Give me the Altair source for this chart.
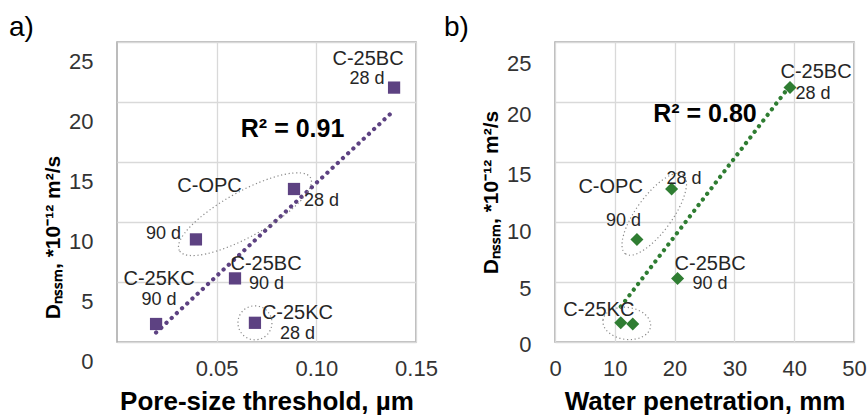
import altair as alt
import pandas as pd

# ---------------- data ----------------
mix = ["C-25BC", "C-OPC", "C-OPC", "C-25BC", "C-25KC", "C-25KC"]
age = ["28 d", "28 d", "90 d", "90 d", "28 d", "90 d"]
dnssm = [21.2, 12.75, 8.55, 5.3, 1.6, 1.5]                   # Dnssm, *10^-12 m2/s
pore_threshold = [0.139, 0.0888, 0.0396, 0.0592, 0.0692, 0.0196]  # µm
water_penetration = [39.3, 19.5, 13.7, 20.5, 11.0, 13.0]       # mm
r2_left = "R² = 0.91"
r2_right = "R² = 0.80"
y_ticks = [0, 5, 10, 15, 20, 25]
x_ticks_left = [0.05, 0.10, 0.15]
x_ticks_right = [0, 10, 20, 30, 40, 50]

df = pd.DataFrame({"mix": mix, "age": age, "dnssm": dnssm,
                   "pore": pore_threshold, "water": water_penetration})
df["key"] = df["mix"] + " " + df["age"]

# ---------------- style ----------------
FONT = "Liberation Sans"
PURPLE = "#5d4282"
GREEN = "#2f7d32"
TXT = "#262626"
W, H = 299, 300
Y_TITLE = "Dₙₛₛₘ, *10⁻¹² m²/s"


def y_enc(offset, title_y):
    return alt.Y("dnssm:Q", scale=alt.Scale(domain=[0, 25], nice=False, zero=False),
                 axis=alt.Axis(values=y_ticks, title=Y_TITLE, labelOffset=offset,
                               titleY=title_y))


def x_left():
    return alt.X("pore:Q", scale=alt.Scale(domain=[0, 0.15], nice=False, zero=False),
                 axis=alt.Axis(values=x_ticks_left, format=".2f",
                               title="Pore-size threshold, µm"))


def x_right():
    return alt.X("water:Q", scale=alt.Scale(domain=[0, 50], nice=False, zero=False),
                 axis=alt.Axis(values=x_ticks_right, format="d",
                               title="Water penetration, mm"))


def ellipse_path(k):
    c = 0.5523
    return (f"M -1 0 C -1 {-c*k:.3f} {-c:.3f} {-k:.3f} 0 {-k:.3f} "
            f"C {c:.3f} {-k:.3f} 1 {-c*k:.3f} 1 0 "
            f"C 1 {c*k:.3f} {c:.3f} {k:.3f} 0 {k:.3f} "
            f"C {-c:.3f} {k:.3f} -1 {c*k:.3f} -1 0 Z")


def panel(xfield, xenc, yenc, color, shape, msize, labels, ellipses, r2, r2_off, tag, tag_dx):
    base = alt.Chart(df)
    layers = []
    # dotted linear trendline
    layers.append(
        base.transform_regression(xfield, "dnssm")
        .mark_line(color=color, strokeWidth=4.2, strokeDash=[0.1, 7], strokeCap="round")
        .encode(x=xenc, y=yenc)
    )
    # dotted grey ellipses around groups
    for filt, ew, eh, ang in ellipses:
        layers.append(
            base.transform_filter(filt)
            .transform_aggregate(**{xfield: f"mean({xfield})", "dnssm": "mean(dnssm)"})
            .mark_point(shape=ellipse_path(eh / ew), size=ew * ew, angle=ang,
                        filled=False, stroke="#8a8a8a", strokeWidth=1.2,
                        strokeDash=[1.2, 2.6], opacity=1)
            .encode(x=xenc, y=yenc)
        )
    # markers
    layers.append(
        base.mark_point(shape=shape, filled=True, size=msize, color=color, opacity=1)
        .encode(x=xenc, y=yenc)
    )
    # annotations
    for key, text, dx, dy, fs in labels:
        layers.append(
            base.transform_filter(alt.datum.key == key)
            .mark_text(text=text, dx=dx, dy=dy, fontSize=fs, font=FONT, color=TXT,
                       align="center", baseline="middle")
            .encode(x=xenc, y=yenc)
        )
    layers.append(
        base.transform_filter(alt.datum.key == "C-25BC 28 d")
        .mark_text(text=r2, dx=r2_off[0], dy=r2_off[1], fontSize=25, font=FONT,
                   fontWeight="bold", color="black", align="center", baseline="middle")
        .encode(x=xenc, y=yenc)
    )
    return alt.layer(*layers).properties(
        width=W, height=H,
        title=alt.TitleParams(tag, anchor="start", frame="group", fontSize=28,
                              fontWeight="normal", font=FONT, color="black",
                              dx=tag_dx, offset=0),
    )


left_labels = [
    ("C-25BC 28 d", "C-25BC", -26, -29, 20),
    ("C-25BC 28 d", "28 d", -27, -9, 18),
    ("C-OPC 28 d", "C-OPC", -84.5, -3, 20),
    ("C-OPC 28 d", "28 d", 27.5, 12, 18),
    ("C-OPC 90 d", "90 d", -32.5, -5, 18),
    ("C-25BC 90 d", "C-25BC", 31, -14.5, 20),
    ("C-25BC 90 d", "90 d", 31.5, 6, 18),
    ("C-25KC 90 d", "C-25KC", 3, -45, 20),
    ("C-25KC 90 d", "90 d", 3, -24.5, 18),
    ("C-25KC 28 d", "C-25KC", 42.5, -10, 20),
    ("C-25KC 28 d", "28 d", 42.5, 11, 18),
]
right_labels = [
    ("C-25BC 28 d", "C-25BC", 26, -16, 20),
    ("C-25BC 28 d", "28 d", 23, 6, 18),
    ("C-OPC 28 d", "28 d", 12.5, -10, 18),
    ("C-OPC 28 d", "C-OPC", -61, -2, 20),
    ("C-OPC 90 d", "90 d", -13.5, -18, 18),
    ("C-25BC 90 d", "C-25BC", 32.5, -14.5, 20),
    ("C-25BC 90 d", "90 d", 32.5, 6, 18),
    ("C-25KC 28 d", "C-25KC", -22, -13, 20),
]

left_ellipses = [
    (alt.datum.mix == "C-OPC", 150, 45, 331),
    (alt.datum.key == "C-25KC 28 d", 34, 34, 0),
]
right_ellipses = [
    (alt.datum.mix == "C-OPC", 98, 36, 306),
    (alt.datum.mix == "C-25KC", 48, 32, 8),
]

right_offset = {
    "condition": [
        {"test": "datum.value == 25", "value": 21},
        {"test": "datum.value >= 15", "value": 12},
        {"test": "datum.value == 10", "value": 9},
        {"test": "datum.value == 5", "value": 6},
    ],
    "value": 2,
}

left = panel("pore", x_left(), y_enc(19, 195), PURPLE, "square", 150,
             left_labels, left_ellipses, r2_left, (-101.5, 41), "a)", -108)
right = panel("water", x_right(), y_enc(right_offset, 150), GREEN, "diamond", 170,
              right_labels, right_ellipses, r2_right, (-85, 26.5), "b)", -111)

chart = (
    alt.hconcat(left, right, spacing=139, bounds="flush")
    .properties(padding={"left": 8, "top": 13, "right": 0, "bottom": 0},
                background="white")
    .configure_view(stroke="#a6a6a6", strokeWidth=1.5)
    .configure_axis(grid=True, gridColor="#d9d9d9", gridWidth=1.3, domain=False,
                    ticks=False, tickSize=0, labelFont=FONT, labelFontSize=22,
                    labelColor="#333333", titleFont=FONT, titleFontWeight="bold",
                    titleColor="black", labelFlush=False, labelOverlap=False)
    .configure_axisX(labelPadding=16, titlePadding=9, titleFontSize=26)
    .configure_axisY(labelPadding=24, titlePadding=5, titleFontSize=21)
)

chart.save("out.html", embed_options={"renderer": "svg", "actions": False})
